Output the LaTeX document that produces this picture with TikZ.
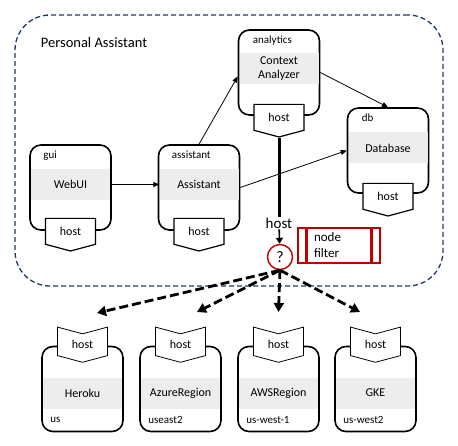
\documentclass[tikz,border=0pt]{standalone}
\usepackage{fontspec}
\setmainfont{Carlito}
\usetikzlibrary{positioning, arrows.meta, shapes.symbols, calc}
\definecolor{navy}{HTML}{1F3864}
\definecolor{filterred}{HTML}{C00000}
\tikzset{
every node/.style = {font = \fontsize{12}{14}\selectfont},
group/.style = {rectangle, draw = navy, line width = 1.3pt, dash pattern = on 5pt off 3pt,
	rounded corners = 35pt, minimum width = 428pt, minimum height = 271pt},
comp/.style = {rectangle, draw, line width = 1.6pt, rounded corners = 11pt, fill = white,
	minimum width = 81pt, minimum height = 85pt},
band/.style = {rectangle, fill = black!7, inner sep = 0pt, align = center,
	minimum width = 79pt, minimum height = 31pt},
tag/.style = {font = \fontsize{11}{13}\selectfont, inner sep = 0pt, anchor = west},
hostport/.style = {signal, signal to = south, draw, fill = white, line width = 1.2pt,
	signal pointer angle = 150, inner sep = 1pt, minimum width = 50pt, minimum height = 29pt},
hostslot/.style = {signal, signal from = north, signal to = south, draw, fill = white,
	line width = 0.8pt, signal pointer angle = 150, inner sep = 1pt,
	minimum width = 50pt, minimum height = 28pt},
flow/.style = {-{Triangle[length = 6pt, width = 5pt]}, line width = 0.8pt},
trunk/.style = {line width = 3pt},
pick/.style = {-{Triangle[length = 6pt, width = 7pt]}, line width = 1.6pt},
deploy/.style = {-{Triangle[length = 9pt, width = 10pt]}, line width = 2.8pt,
	dash pattern = on 9pt off 4pt},
filter/.style = {rectangle, draw = filterred, line width = 2.6pt, text width = 50pt,
	align = left, minimum width = 82pt, minimum height = 35pt, inner sep = 0pt,
	font = \fontsize{13}{16}\selectfont},
filterline/.style = {draw = filterred, line width = 2.6pt}
}

\begin{document}
\begin{tikzpicture}[x = 1pt, y = 1pt]
\useasboundingbox (0,0) rectangle (458,445);

%% The group
\node [group] (pa) at (229,294.5) {};
\node [anchor = west, font = \fontsize{14.5}{17}\selectfont] (patitle) at ([xshift = 23pt, yshift = -28pt]pa.north west) {Personal Assistant};

%% The components
\node [comp] (gui) at (70.5,257.5) {};
\node [comp] (assistant) at (199,257.5) {};
\node [comp] (analytics) at (279,372.5) {};
\node [comp] (db) at (388,294.5) {};
\node [band] (webui) at ([yshift = 3pt]gui.center) {WebUI};
\node [band] (asstband) at ([yshift = 3pt]assistant.center) {Assistant};
\node [band] (context) at ([yshift = 4pt]analytics.center) {Context\\Analyzer};
\node [band] (database) at ([yshift = 2.5pt]db.center) {Database};
\node [tag] (guitag) at ([xshift = 14pt, yshift = -11pt]gui.north west) {gui};
\node [tag] (assttag) at ([xshift = 14pt, yshift = -11pt]assistant.north west) {assistant};
\node [tag] (anatag) at ([xshift = 15pt, yshift = -11pt]analytics.north west) {analytics};
\node [tag] (dbtag) at ([xshift = 15pt, yshift = -11pt]db.north west) {db};

%% The host ports
\node [hostport, anchor = north] (guihost) at ([yshift = 13pt]gui.south) {host};
\node [hostport, anchor = north] (assthost) at ([yshift = 13pt]assistant.south) {host};
\node [hostport, anchor = north] (anahost) at ([yshift = 12pt]analytics.south) {host};
\node [hostport, anchor = north] (dbhost) at ([yshift = 11pt]db.south) {host};

%% The hosts
\node [comp] (heroku) at (82.5,56) {};
\node [comp] (azure) at (180.5,56) {};
\node [comp] (aws) at (278.5,56) {};
\node [comp] (gke) at (375.5,56) {};
\node [band] (herokuband) at ([yshift = -4pt]heroku.center) {Heroku};
\node [band] (azureband) at ([yshift = -4pt]azure.center) {AzureRegion};
\node [band] (awsband) at ([yshift = -4pt]aws.center) {AWSRegion};
\node [band] (gkeband) at ([yshift = -4pt]gke.center) {GKE};
\node [tag] (ustag) at ([xshift = 9pt, yshift = 12pt]heroku.south west) {us};
\node [tag] (azuretag) at ([xshift = 9pt, yshift = 12pt]azure.south west) {useast2};
\node [tag] (awstag) at ([xshift = 9pt, yshift = 12pt]aws.south west) {us-west-1};
\node [tag] (gketag) at ([xshift = 9pt, yshift = 12pt]gke.south west) {us-west2};
\node [hostslot, anchor = south] (herokuhost) at ([yshift = -17pt]heroku.north) {host};
\node [hostslot, anchor = south] (azurehost) at ([yshift = -17pt]azure.north) {host};
\node [hostslot, anchor = south] (awshost) at ([yshift = -17pt]aws.north) {host};
\node [hostslot, anchor = south] (gkehost) at ([yshift = -17pt]gke.north) {host};

%% The calls
\draw [flow] (webui) -- (asstband);
\draw [flow] (assistant.north) -- ([yshift = -4pt]analytics.west);
\draw [flow] (analytics.east) -- (db.north);
\draw [flow] (assistant.east) -- (db.west);

%% The node filter
\node [font = \fontsize{15}{18}\selectfont, inner sep = 1pt] (hostlbl) at (279,222) {host};
\node [circle, draw = filterred, line width = 1.4pt, minimum size = 25pt, inner sep = 0pt,
	font = \fontsize{16}{18}\selectfont] (q) at (280,188) {?};
\node [filter] (nf) at (339,199.5) {node\\filter};
\draw [filterline] ([xshift = 10pt]nf.north west) -- ([xshift = 10pt]nf.south west);
\draw [filterline] ([xshift = -10pt]nf.north east) -- ([xshift = -10pt]nf.south east);
\draw [trunk] (anahost.south) -- (hostlbl.north);
\draw [pick] (hostlbl) -- (q);

%% The deployments
\coordinate (toheroku) at (97,132);
\coordinate (toazure) at (197,133);
\coordinate (toaws) at (278.5,133);
\coordinate (togke) at (360,133);
\draw [deploy] (q.south) -- (toheroku);
\draw [deploy] (q.south) -- (toazure);
\draw [deploy] (q.south) -- (toaws);
\draw [deploy] (q.south) -- (togke);

\end{tikzpicture}
\end{document}
